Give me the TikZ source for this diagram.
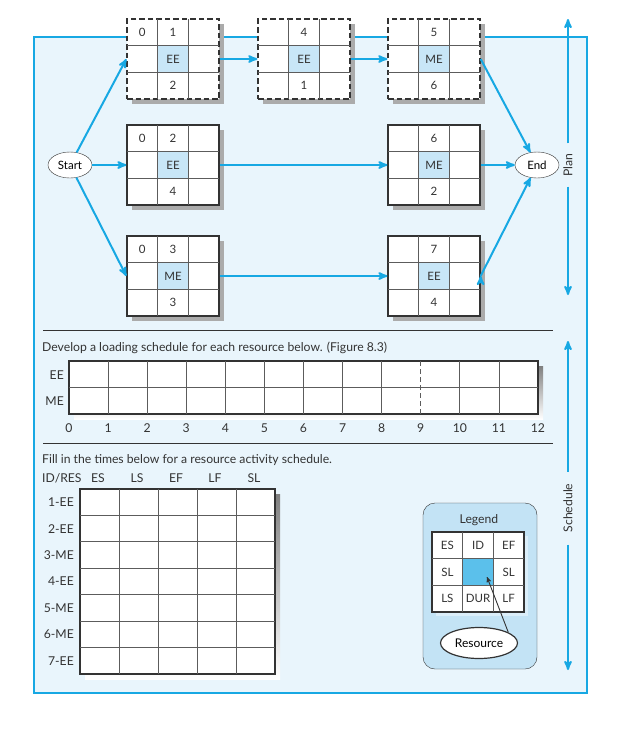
\documentclass[tikz,border=0pt]{standalone}
\usepackage{fontspec}
\setmainfont{Lato}
\usetikzlibrary{arrows,shapes.geometric,shadows}
\definecolor{linkblue}{HTML}{17A8E3}
\definecolor{panel}{HTML}{E9F5FC}
\definecolor{resblue}{HTML}{C8E6F7}
\definecolor{legendblue}{HTML}{C3E3F5}
\definecolor{legendcell}{HTML}{5BC0EB}
\definecolor{shade}{HTML}{ABABAB}
\definecolor{ink}{HTML}{333333}
\tikzset{
	x=1pt, y=-1pt,
	>=stealth', % heads of the blue links
	font=\fontsize{12.2}{14}\selectfont,
	link/.style={->, linkblue, line width=2pt},
	cell/.style={ink!80, line width=0.8pt},
	border/.style={draw=ink, line width=1.3pt},
	actbox/.style={rectangle, border, fill=white, minimum width=92pt, minimum height=80pt, inner sep=0pt,
		drop shadow={shadow xshift=5pt, shadow yshift=-5pt, fill=shade, opacity=1}},
	dashbox/.style={dash pattern=on 5.5pt off 3pt, line width=1.4pt},
	celltext/.style={ink, font=\fontsize{11.5}{13}\selectfont, inner sep=0pt},
	terminal/.style={ellipse, draw=ink, thin, fill=white, minimum width=44pt, minimum height=26pt, inner sep=0pt,
		font=\fontsize{11.5}{13}\selectfont},
	lbl/.style={ink, inner sep=0pt},
	side/.style={rotate=90, ink, inner xsep=10pt, inner ysep=0pt},
}
% activity box: name, x, y (top left), style, top left, top middle, resource, bottom middle
\newcommand{\actbox}[8]{%
	\node[actbox, #4] (#1) at (#2+46,#3+40) {};
	\fill[resblue] (#2+30.67,#3+26.67) rectangle (#2+61.33,#3+53.33);
	\draw[cell] (#2+30.67,#3) -- (#2+30.67,#3+80) (#2+61.33,#3) -- (#2+61.33,#3+80)
		(#2,#3+26.67) -- (#2+92,#3+26.67) (#2,#3+53.33) -- (#2+92,#3+53.33);
	\node[celltext] (#1tl) at (#2+15.33,#3+13.33) {#5};
	\node[celltext] (#1tm) at (#2+46,#3+13.33) {#6};
	\node[celltext] (#1res) at (#2+46,#3+40) {#7};
	\node[celltext] (#1bm) at (#2+46,#3+66.67) {#8};
}

\begin{document}
\begin{tikzpicture}
	\useasboundingbox (0,0) rectangle (629,729);
	\draw[linkblue, line width=1.3pt, fill=panel] (34,37) rectangle (587,693);

	% plan
	\actbox{a1}{127}{19}{dashbox}{0}{1}{EE}{2}
	\actbox{a4}{258}{19}{dashbox}{}{4}{EE}{1}
	\actbox{a5}{388}{19}{dashbox}{}{5}{ME}{6}
	\actbox{a2}{127}{125}{}{0}{2}{EE}{4}
	\actbox{a6}{388}{125}{}{}{6}{ME}{2}
	\actbox{a3}{127}{236}{}{0}{3}{ME}{3}
	\actbox{a7}{388}{236}{}{}{7}{EE}{4}

	\node[terminal] (start) at (70,165) {Start};
	\node[terminal] (end) at (537,165) {End};

	\draw[link] (start) edge (a1.west)
		(start) edge (a2.west)
		(start) edge (a3.west)
		(a1.east) edge (a4.west)
		(a4.east) edge (a5.west)
		(a2.east) edge (a6.west)
		(a3.east) edge (a7.west)
		(a5.east) edge (end)
		(a6.east) edge (end)
		(a7.east) edge (end);

	\node[side] (plan) at (568,165) {Plan};
	\coordinate (plantop) at (568,19);
	\coordinate (planbot) at (568,295);
	\draw[link] (plan.east) -- (plantop);
	\draw[link] (plan.west) -- (planbot);

	% loading schedule
	\draw[ink, line width=0.8pt] (43,330) -- (553,330) (43,443) -- (553,443);
	\node[lbl, anchor=west] (loadtxt) at (42,348) {Develop a loading schedule for each resource below. (Figure 8.3)};
	\fill[shade] (74,366) rectangle (543,419);
	\draw[border, fill=white] (69,361) rectangle (538,414);
	\draw[cell] (69,387.5) -- (538,387.5);
	\foreach \i in {1,...,8,10,11}
		\draw[cell] (69+39.083*\i,361) -- (69+39.083*\i,414);
	\draw[cell, dash pattern=on 5pt off 3pt] (420.75,361) -- (420.75,414);
	\foreach \i in {0,...,12}
		\node[lbl] (t\i) at (69+39.083*\i,428) {\i};
	\node[lbl, anchor=east] (ee) at (64,375) {EE};
	\node[lbl, anchor=east] (me) at (64,401) {ME};

	% activity schedule
	\node[lbl, anchor=west] (filltxt) at (42,460) {Fill in the times below for a resource activity schedule.};
	\node[lbl, anchor=west] (idres) at (42,478) {ID/RES};
	\foreach \h [count=\c] in {ES,LS,EF,LF,SL}
		\node[lbl] (h\c) at (80+39*\c-21,478) {\h};
	\fill[shade] (85,494) rectangle (280,679);
	\draw[border, fill=white] (80,489) rectangle (275,674);
	\foreach \c in {1,...,4}
		\draw[cell] (80+39*\c,489) -- (80+39*\c,674);
	\foreach \r in {1,...,6}
		\draw[cell] (80,489+26.43*\r) -- (275,489+26.43*\r);
	\foreach \a [count=\r] in {1-EE,2-EE,3-ME,4-EE,5-ME,6-ME,7-EE}
		\node[lbl, anchor=east] (row\r) at (74,489+26.43*\r-13.2) {\a};

	% legend
	\draw[ink, thin, fill=legendblue, rounded corners=12pt] (423,503) rectangle (537,669);
	\node[lbl] (legend) at (479,520) {Legend};
	\fill[legendblue!60!white] (436,536) rectangle (528,616);
	\draw[border, fill=white] (432,532) rectangle (524,612);
	\fill[legendcell] (462.67,558.67) rectangle (493.33,585.33);
	\draw[cell] (462.67,532) -- (462.67,612) (493.33,532) -- (493.33,612)
		(432,558.67) -- (524,558.67) (432,585.33) -- (524,585.33);
	\foreach \t [count=\k] in {ES,ID,EF}
		\node[celltext] (lt\k) at (432+30.67*\k-15.33,545.33) {\t};
	\node[celltext] (lm1) at (447.33,572) {SL};
	\node[celltext] (lm3) at (508.67,572) {SL};
	\foreach \t [count=\k] in {LS,DUR,LF}
		\node[celltext] (lb\k) at (432+30.67*\k-15.33,598.67) {\t};
	\node[terminal, draw=ink, line width=1.2pt, minimum width=77pt, minimum height=31pt, font=\fontsize{12}{14}\selectfont] (res) at (479,643) {Resource};
	\coordinate (legres) at (487,577);
	\draw[->, ink, line width=0.9pt] (res.20) -- (legres);

	\node[side, inner xsep=12pt] (sched) at (568,508) {Schedule};
	\coordinate (schedtop) at (568,341);
	\coordinate (schedbot) at (568,670);
	\draw[link] (sched.east) -- (schedtop);
	\draw[link] (sched.west) -- (schedbot);
\end{tikzpicture}
\end{document}
